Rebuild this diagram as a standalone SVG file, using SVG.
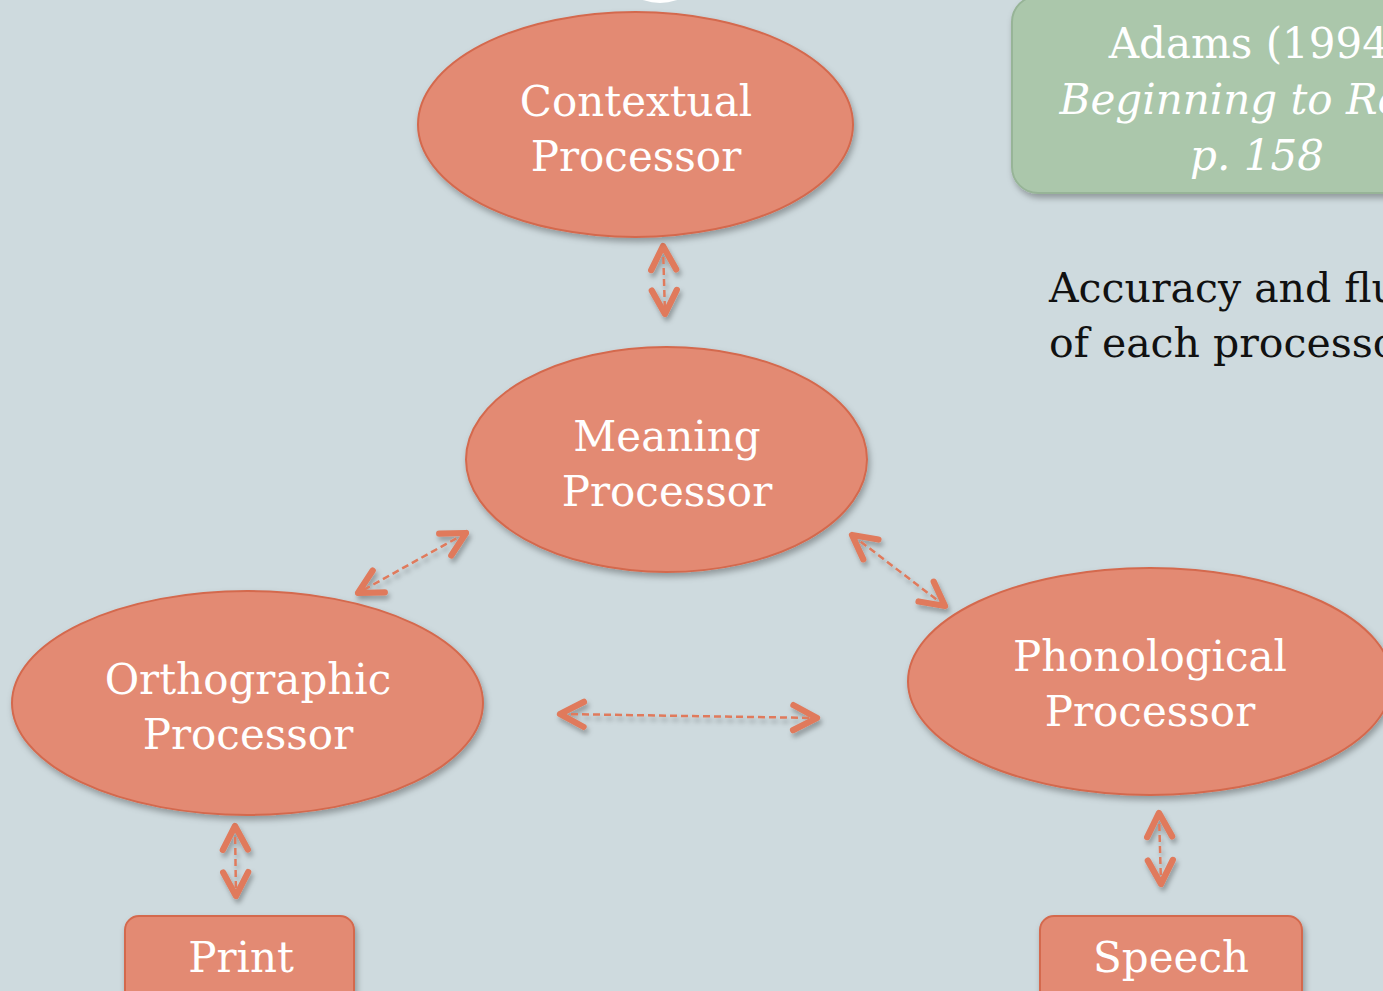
<svg xmlns="http://www.w3.org/2000/svg" width="1383" height="991" viewBox="0 0 1383 991">
<defs>
<style>
.node{fill:#E38A73;stroke:#D4694E;stroke-width:2;filter:url(#sh)}
.green{fill:#ABC7AB;stroke:#97B497;stroke-width:2;filter:url(#sh)}
.lbl{font-family:"DejaVu Serif","Liberation Serif",serif;font-size:42px;fill:#fff;text-anchor:middle}
.it{font-style:italic}
.body{font-family:"DejaVu Serif","Liberation Serif",serif;font-size:41px;fill:#111}
.con{fill:none;stroke:#E07A5C;stroke-width:2.5;stroke-dasharray:7 4;marker-start:url(#ah);marker-end:url(#ah)}
</style>
<filter id="sh" x="-10%" y="-10%" width="125%" height="130%">
<feDropShadow dx="2" dy="4" stdDeviation="3" flood-color="#000" flood-opacity="0.3"/>
</filter>
<filter id="ash" filterUnits="userSpaceOnUse" x="0" y="0" width="1383" height="991">
<feDropShadow dx="2" dy="4" stdDeviation="2.5" flood-color="#000" flood-opacity="0.3"/>
</filter>
<marker id="ah" markerUnits="userSpaceOnUse" markerWidth="40" markerHeight="40" viewBox="-26 -16 32 32" refX="0" refY="0" orient="auto-start-reverse">
<path d="M-19,-10 L0,0 L-19,10" fill="none" stroke="#E07A5C" stroke-width="5" stroke-linecap="round" stroke-linejoin="round"/>
</marker>
</defs>
<rect width="1383" height="991" fill="#CEDADE"/>
<ellipse cx="660" cy="-32" rx="42" ry="35" fill="#fff"/>

<g id="citation">
<rect class="green" x="1012" y="-4" width="420" height="197" rx="26"/>
<text class="lbl" x="1257" y="58">Adams (1994)</text>
<text class="lbl it" x="1257" y="114">Beginning to Read</text>
<text class="lbl it" x="1257" y="170">p. 158</text>
</g>

<g id="note">
<text class="body" x="1049" y="302">Accuracy and fluency</text>
<text class="body" x="1049" y="357">of each processor</text>
</g>

<g id="connectors" filter="url(#ash)">
<line class="con" x1="663" y1="246" x2="665" y2="314"/>
<line class="con" x1="466" y1="533" x2="358" y2="593"/>
<line class="con" x1="560" y1="714" x2="817" y2="718"/>
<line class="con" x1="852" y1="535" x2="945" y2="606"/>
<line class="con" x1="235" y1="826" x2="236" y2="896"/>
<line class="con" x1="1159" y1="813" x2="1161" y2="884"/>
</g>

<g id="contextual">
<ellipse class="node" cx="635.5" cy="124.5" rx="217.5" ry="112.5"/>
<text class="lbl" x="636" y="116">Contextual</text>
<text class="lbl" x="636" y="171">Processor</text>
</g>

<g id="meaning">
<ellipse class="node" cx="666.5" cy="459.5" rx="200.5" ry="112.5"/>
<text class="lbl" x="667" y="451">Meaning</text>
<text class="lbl" x="667" y="506">Processor</text>
</g>

<g id="orthographic">
<ellipse class="node" cx="247.5" cy="703" rx="235.5" ry="112"/>
<text class="lbl" x="248" y="694">Orthographic</text>
<text class="lbl" x="248" y="749">Processor</text>
</g>

<g id="phonological">
<ellipse class="node" cx="1150" cy="681.5" rx="242" ry="113.5"/>
<text class="lbl" x="1150" y="671">Phonological</text>
<text class="lbl" x="1150" y="726">Processor</text>
</g>

<g id="print">
<rect class="node" x="125" y="916" width="229" height="100" rx="14"/>
<text class="lbl" x="241" y="972">Print</text>
</g>

<g id="speech">
<rect class="node" x="1040" y="916" width="262" height="100" rx="14"/>
<text class="lbl" x="1171" y="972">Speech</text>
</g>
</svg>
